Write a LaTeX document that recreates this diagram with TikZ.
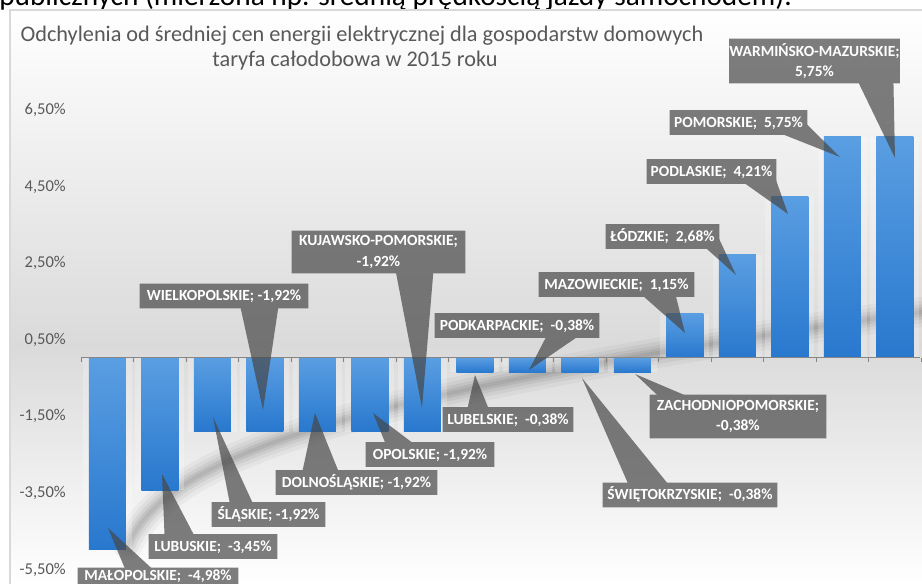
\documentclass[tikz,border=0pt]{standalone}
\usepackage{fontspec}
\setmainfont{Carlito}
\usetikzlibrary{calc}
\pgfdeclarelayer{back}
\pgfdeclarelayer{mid}
\pgfsetlayers{back,mid,main}
\definecolor{txtgray}{HTML}{595959}
\definecolor{callgray}{HTML}{474747}
\definecolor{bartop}{RGB}{90,158,226}
\definecolor{barbot}{RGB}{40,120,206}
\definecolor{bgmid}{HTML}{DADADA}
\definecolor{framegray}{HTML}{D9D9D9}
\definecolor{axisgray}{HTML}{868686}
\begin{document}
\begin{tikzpicture}[x=0.75pt,y=-0.75pt,
  lbl/.style={font=\fontsize{11.6}{14}\selectfont\bfseries, text=white, inner sep=0pt,
    text height=7.5pt, text depth=0pt, minimum height=18pt},
  lbltwo/.style={font=\fontsize{11.6}{15.5}\selectfont\bfseries, text=white, inner sep=0pt, align=center},
  titl/.style={font=\fontsize{16.7}{20}\selectfont, text=txtgray, inner sep=0pt},
  axlbl/.style={font=\fontsize{12.4}{14}\selectfont, text=txtgray, inner sep=0pt},
  barshade/.style={top color=bartop, bottom color=barbot},
  pointer/.style={fill=callgray}]
\useasboundingbox (0,0) rectangle (922,584);
\begin{pgfonlayer}{back}
  % cut-off text at the very top
  \begin{scope}
    \clip (-5,-5) rectangle (930,9.6);
    \node[anchor=base west, inner sep=0pt, font=\fontsize{22}{26}\selectfont] (toptext) at (-1,6)
      {publicznych (mierzona np. średnią prędkością jazdy samochodem).};
  \end{scope}
  % chart background
  \shade[top color=white, bottom color=bgmid] (10,10) rectangle (922,345);
  \shade[top color=bgmid, bottom color=white] (10,344.5) rectangle (922,584);
  \draw[framegray, line width=0.8pt] (10,590) -- (10,10) -- (930,10);
  % soft shadow arc
  \foreach \w/\o in {30/0.035,22/0.045,15/0.055,9/0.065,4/0.06}
    \draw[black, opacity=\o, line width=\w*0.75pt, line cap=round]
      (128,545) .. controls (165,465) and (300,400) .. (922,312);
  % bars
  \foreach \v [count=\i from 0] in {-4.98,-3.45,-1.92,-1.92,-1.92,-1.92,-1.92,-0.38,-0.38,-0.38,-0.38,1.15,2.68,4.21,5.75,5.75} {
    \pgfmathsetmacro\xl{88.75+52.5*\i}
    \pgfmathsetmacro\xr{\xl+37}
    \pgfmathsetmacro\yv{357.8-\v*38.4}
    \fill[white, opacity=0.22] (\xl-6,357.8) rectangle (\xr+6,\yv);
    \shade[barshade] (\xl,357.8) rectangle (\xr,\yv);
  }
  % axis
  \draw[axisgray, line width=0.9pt] (81,357.8) -- (920,357.8);
  \foreach \k in {0,...,16}
    \draw[axisgray, line width=0.75pt] (81+52.5*\k,357.8) -- (81+52.5*\k,361.8);
  % y labels
  \foreach \v/\t [count=\k] in {6.5/{6,50\%},4.5/{4,50\%},2.5/{2,50\%},0.5/{0,50\%},-1.5/{-1,50\%},-3.5/{-3,50\%},-5.5/{-5,50\%}}
    \node[axlbl, anchor=base east] (yl\k) at (66,{357.8-\v*38.3+5.6}) {\t};
  % title
  \node[titl, anchor=base] (title1) at (362,42) {Odchylenia od średniej cen energii elektrycznej dla gospodarstw domowych};
  \node[titl, anchor=base] (title2) at (355,67) {taryfa całodobowa w 2015 roku};
\end{pgfonlayer}

% callout labels
\node[lbl, minimum width=120pt, minimum height=12pt] (A) at (158,576) {MAŁOPOLSKIE;\ \ -4,98\%};
\node[lbl, minimum width=96pt]     (B) at (213,546.5) {LUBUSKIE;\ \ -3,45\%};
\node[lbl, minimum width=84.75pt]  (C) at (268.5,514.5) {ŚLĄSKIE; -1,92\%};
\node[lbl, minimum width=126pt]    (D) at (224,296)   {WIELKOPOLSKIE; -1,92\%};
\node[lbl, minimum width=120.75pt] (E) at (356.5,482.5) {DOLNOŚLĄSKIE; -1,92\%};
\node[lbl, minimum width=96pt]     (F) at (430,454.5) {OPOLSKIE; -1,92\%};
\node[lbltwo, minimum width=129.75pt, minimum height=31.5pt] (G) at (378.5,252) {KUJAWSKO-POMORSKIE;\\-1,92\%};
\node[lbl, minimum width=97.5pt]   (H) at (508,419.5) {LUBELSKIE;\ \ -0,38\%};
\node[lbl, minimum width=123pt]    (I) at (517,325.5) {PODKARPACKIE;\ \ -0,38\%};
\node[lbl, minimum width=130.5pt]  (J) at (690,495)   {ŚWIĘTOKRZYSKIE;\ \ -0,38\%};
\node[lbltwo, minimum width=132pt, minimum height=32.25pt] (K) at (738,416.5) {ZACHODNIOPOMORSKIE;\\-0,38\%};
\node[lbl, minimum width=116.25pt] (L) at (616.5,284.5) {MAZOWIECKIE;\ \ 1,15\%};
\node[lbl, minimum width=84.75pt]  (M) at (662.5,236.5) {ŁÓDZKIE;\ \ 2,68\%};
\node[lbl, minimum width=96.75pt]  (N) at (711.5,171.5) {PODLASKIE;\ \ 4,21\%};
\node[lbl, minimum width=102.75pt] (O) at (738.5,122.5) {POMORSKIE;\ \ 5,75\%};
\node[lbltwo, minimum width=119.25pt, minimum height=33pt] (P) at (814.5,61) {WARMIŃSKO-MAZURSKIE;\\5,75\%};

% pointer tips on the bars
\coordinate (tA) at (108,528);
\coordinate (tB) at (162,474);
\coordinate (tC) at (213,417);
\coordinate (tD) at (263,410);
\coordinate (tE) at (315,413);
\coordinate (tF) at (373,413);
\coordinate (tG) at (422,408);
\coordinate (tH) at (475,375);
\coordinate (tI) at (529,370);
\coordinate (tJ) at (582,378);
\coordinate (tK) at (635,374);
\coordinate (tL) at (685,333);
\coordinate (tM) at (736,275);
\coordinate (tN) at (788,214);
\coordinate (tO) at (840,157);
\coordinate (tP) at (895,158);

\begin{pgfonlayer}{mid}
\begin{scope}[transparency group, opacity=0.7]
  \foreach \n in {A,B,C,D,E,F,G,H,I,J,K,L,M,N,O,P}
    \fill[pointer] (\n.north west) rectangle (\n.south east);
  \fill[pointer] (tA) -- (128,0 |- A.center) -- (160,0 |- A.center) -- cycle;
  \fill[pointer] (tB) -- (165,0 |- B.center) -- (200,0 |- B.center) -- cycle;
  \fill[pointer] (tC) -- (232,0 |- C.center) -- (258,0 |- C.center) -- cycle;
  \fill[pointer] (tD) -- (238,0 |- D.center) -- (280,0 |- D.center) -- cycle;
  \fill[pointer] (tE) -- (300,0 |- E.center) -- (343,0 |- E.center) -- cycle;
  \fill[pointer] (tF) -- (390,0 |- F.center) -- (428,0 |- F.center) -- cycle;
  \fill[pointer] (tG) -- (392,0 |- G.center) -- (435,0 |- G.center) -- cycle;
  \fill[pointer] (tH) -- (465,0 |- H.center) -- (493,0 |- H.center) -- cycle;
  \fill[pointer] (tI) -- (552,0 |- I.center) -- (594,0 |- I.center) -- cycle;
  \fill[pointer] (tJ) -- (633,0 |- J.center) -- (677,0 |- J.center) -- cycle;
  \fill[pointer] (tK) -- (680,0 |- K.center) -- (735,0 |- K.center) -- cycle;
  \fill[pointer] (tL) -- (630,0 |- L.center) -- (673,0 |- L.center) -- cycle;
  \fill[pointer] (tM) -- (693,0 |- M.center) -- (718,0 |- M.center) -- cycle;
  \fill[pointer] (tN) -- (728,0 |- N.center) -- (773,0 |- N.center) -- cycle;
  \fill[pointer] (tO) -- (753,0 |- O.center) -- (805,0 |- O.center) -- cycle;
  \fill[pointer] (tP) -- (848,0 |- P.center) -- (893,0 |- P.center) -- cycle;
\end{scope}
\end{pgfonlayer}
\end{tikzpicture}
\end{document}
